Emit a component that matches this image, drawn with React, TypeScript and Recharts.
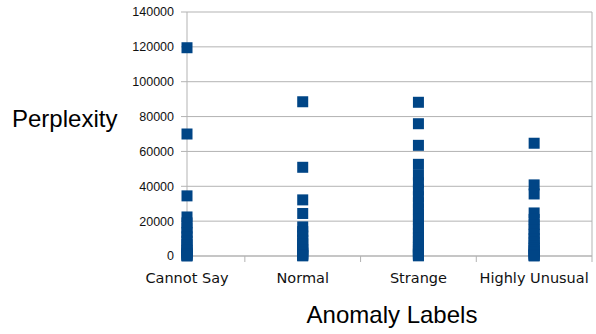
import React from 'react';
import { ScatterChart, Scatter, XAxis, YAxis, CartesianGrid, ReferenceLine, Label } from 'recharts';

const categories = ['Cannot Say', 'Normal', 'Strange', 'Highly Unusual'];

const cannotSay = [119500, 70000, 34500, 22400, 19000, 16000, 13500, 11000, 8500, 6500, 4800, 3200, 2000, 1200, 600, 200, 50];
const normal = [88500, 50900, 32200, 24400, 16700, 14000, 11500, 9000, 7000, 5200, 3600, 2400, 1500, 800, 300, 80];
const strange = [88200, 75900, 63500, 52600, 46500, 42000, 38000, 34000, 30500, 27000, 24000, 21000, 18000, 15500, 13000, 10500, 8500, 6500, 5000, 3600, 2500, 1600, 900, 400, 100];
const highlyUnusual = [64700, 40800, 35600, 24700, 21000, 18000, 15000, 12500, 10000, 8000, 6000, 4500, 3200, 2200, 1300, 700, 250, 50];

const seriesValues = [cannotSay, normal, strange, highlyUnusual];

const yTicks = [0, 20000, 40000, 60000, 80000, 100000, 120000, 140000];
const xTicks = [1, 1.5, 2, 2.5, 3, 3.5, 4, 4.5];

const GRID = '#b3b3b3';
const MARK = '#004586';
const SIDE = 11;

const XTick = (props: any) => {
  const { x, y, payload } = props;
  const v = payload.value;
  if (Number.isInteger(v)) {
    return (
      <text x={x} y={y + 27} textAnchor="middle" fontFamily="DejaVu Sans" fontSize={14.5} fill="#111">
        {categories[v - 1]}
      </text>
    );
  }
  return <line x1={x} x2={x} y1={y} y2={y + 6} stroke={GRID} />;
};

const SquareMark = (props: any) => {
  const { cx, cy } = props;
  return <rect x={cx - SIDE / 2} y={cy - SIDE / 2} width={SIDE} height={SIDE} fill={MARK} />;
};

export default function App() {
  return (
    <div style={{ position: 'absolute', left: 0, top: 0 }}>
      <ScatterChart width={596} height={334} margin={{ top: 12, right: 4, bottom: 0, left: 0 }}>
        <CartesianGrid vertical={false} stroke={GRID} />
        <XAxis
          type="number"
          dataKey="x"
          domain={[1, 4.5]}
          ticks={xTicks}
          interval={0}
          height={78}
          tickSize={0}
          tickMargin={0}
          tickLine={false}
          stroke={GRID}
          tick={<XTick />}
        >
          <Label
            content={() => (
              <text x={392} y={323} textAnchor="middle" fontFamily="Liberation Sans" fontSize={24} fill="#000">
                Anomaly Labels
              </text>
            )}
          />
        </XAxis>
        <YAxis
          type="number"
          dataKey="y"
          domain={[0, 140000]}
          ticks={yTicks}
          interval={0}
          width={187}
          tickSize={6}
          tickMargin={7}
          stroke={GRID}
          tick={{ fill: '#111', fontSize: 12.5, fontFamily: 'Liberation Sans' }}
        >
          <Label
            content={() => (
              <text x={12} y={127} fontFamily="Liberation Sans" fontSize={24} fill="#000">
                Perplexity
              </text>
            )}
          />
        </YAxis>
        <ReferenceLine x={4.5} stroke={GRID} />
        {seriesValues.map((vals, i) => (
          <Scatter
            key={categories[i]}
            name={categories[i]}
            data={vals.map((v) => ({ x: i + 1, y: v }))}
            fill={MARK}
            shape={<SquareMark />}
            isAnimationActive={false}
          />
        ))}
      </ScatterChart>
    </div>
  );
}
